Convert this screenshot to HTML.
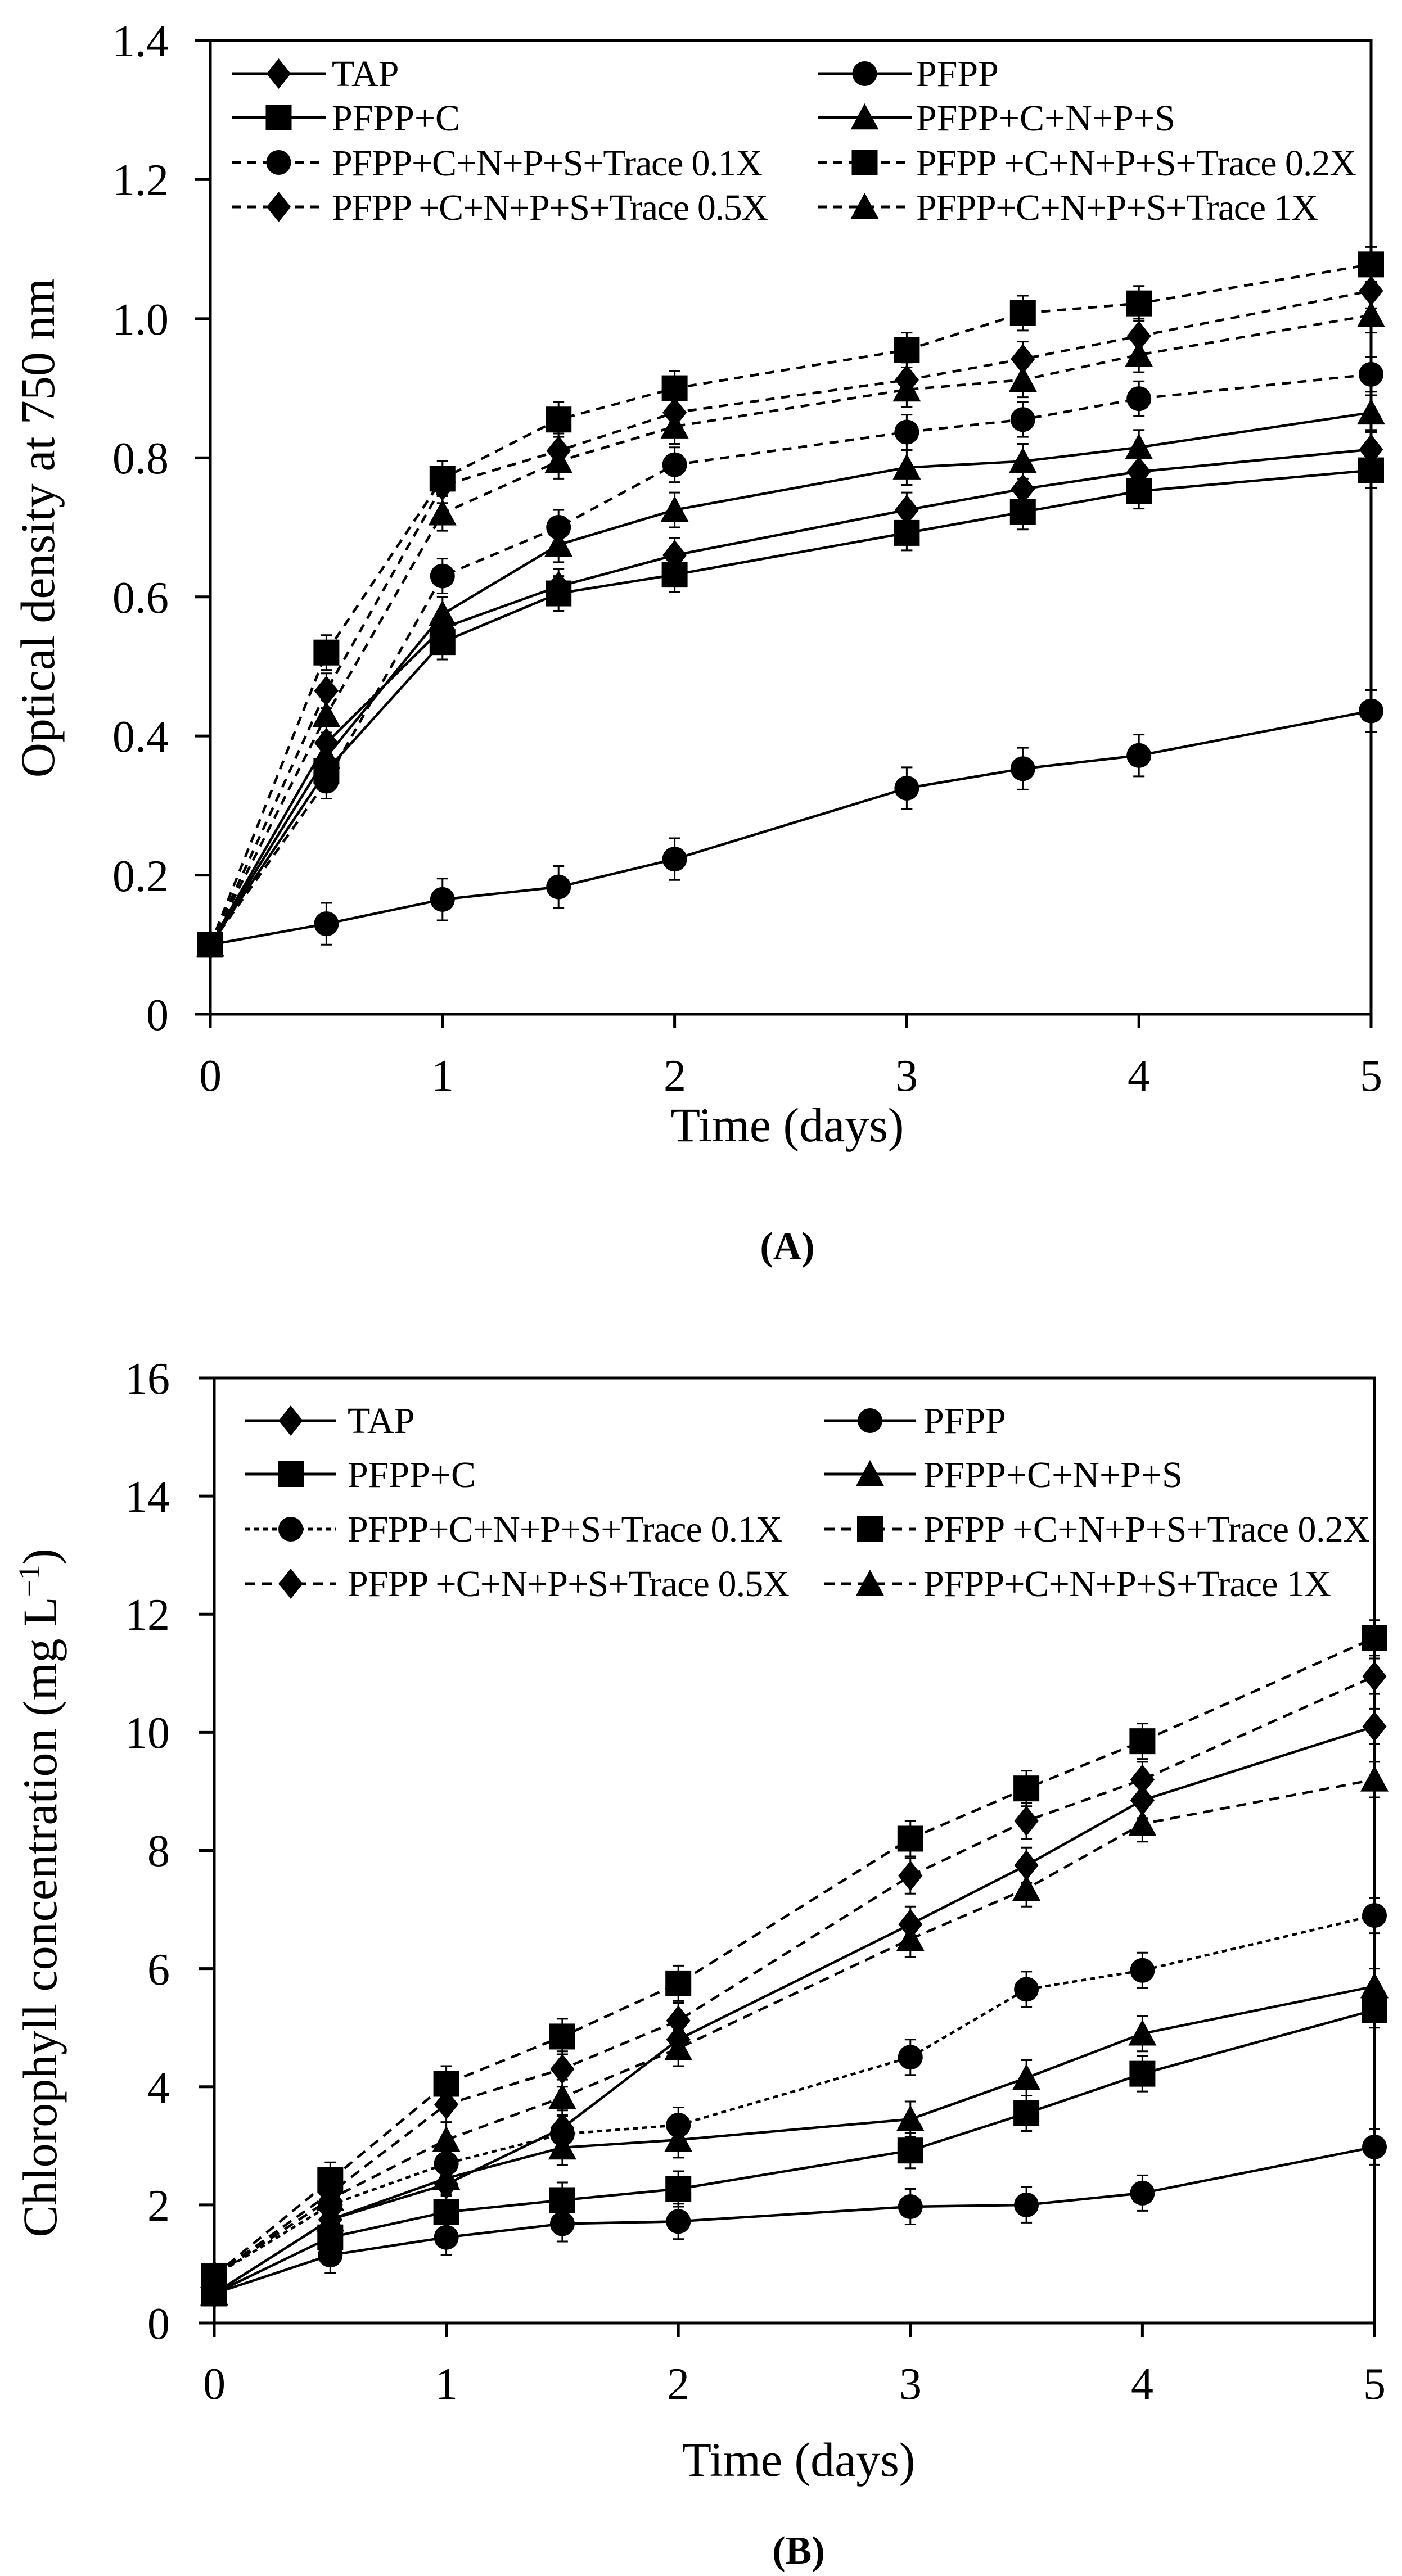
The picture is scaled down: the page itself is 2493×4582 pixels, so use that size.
<!DOCTYPE html>
<html><head><meta charset="utf-8">
<style>
html,body{margin:0;padding:0;background:#fff;}
svg{display:block;}
text{font-family:"Liberation Serif",serif;fill:#000;}
</style></head>
<body>
<svg id="s" width="2493" height="4582" viewBox="0 0 2493 4582" xmlns="http://www.w3.org/2000/svg">
<rect width="2493" height="4582" fill="#fff"/>
<g id="g"></g>
<!-- Panel A text -->
<g font-size="80" text-anchor="end">
<text x="300" y="100">1.4</text><text x="300" y="347">1.2</text><text x="300" y="595">1.0</text>
<text x="300" y="842">0.8</text><text x="300" y="1090">0.6</text><text x="300" y="1337">0.4</text>
<text x="300" y="1585">0.2</text><text x="300" y="1832">0</text>
</g>
<g font-size="80" text-anchor="middle">
<text x="374" y="1940">0</text><text x="787" y="1940">1</text><text x="1200" y="1940">2</text>
<text x="1612" y="1940">3</text><text x="2025" y="1940">4</text><text x="2438" y="1940">5</text>
<text x="1400" y="2030" font-size="86">Time (days)</text>
<text x="1400" y="2240" font-size="70" font-weight="bold">(A)</text>
</g>
<text transform="translate(96,939) rotate(-90)" font-size="86" text-anchor="middle">Optical density at 750 nm</text>
<g font-size="66">
<text x="590" y="153">TAP</text><text x="1629" y="153">PFPP</text>
<text x="590" y="232">PFPP+C</text><text x="1629" y="232">PFPP+C+N+P+S</text>
<text x="590" y="312" textLength="766">PFPP+C+N+P+S+Trace 0.1X</text><text x="1629" y="312" textLength="783">PFPP +C+N+P+S+Trace 0.2X</text>
<text x="590" y="391" textLength="776">PFPP +C+N+P+S+Trace 0.5X</text><text x="1629" y="391" textLength="715">PFPP+C+N+P+S+Trace 1X</text>
</g>
<!-- Panel B text -->
<g font-size="80" text-anchor="end">
<text x="302" y="2479">16</text><text x="302" y="2689">14</text><text x="302" y="2899">12</text>
<text x="302" y="3109">10</text><text x="302" y="3319">8</text><text x="302" y="3530">6</text>
<text x="302" y="3740">4</text><text x="302" y="3950">2</text><text x="302" y="4160">0</text>
</g>
<g font-size="80" text-anchor="middle">
<text x="381" y="4267">0</text><text x="794" y="4267">1</text><text x="1206" y="4267">2</text>
<text x="1619" y="4267">3</text><text x="2031" y="4267">4</text><text x="2444" y="4267">5</text>
<text x="1420" y="4404" font-size="86">Time (days)</text>
<text x="1420" y="4560" font-size="70" font-weight="bold">(B)</text>
</g>
<text transform="translate(100,3367) rotate(-90)" font-size="86" text-anchor="middle">Chlorophyll concentration (mg L<tspan font-size="54" dy="-30">−1</tspan><tspan dy="30">)</tspan></text>
<g font-size="66">
<text x="618" y="2549">TAP</text><text x="1642" y="2549">PFPP</text>
<text x="618" y="2645">PFPP+C</text><text x="1642" y="2645">PFPP+C+N+P+S</text>
<text x="618" y="2742" textLength="773">PFPP+C+N+P+S+Trace 0.1X</text><text x="1642" y="2742" textLength="794">PFPP +C+N+P+S+Trace 0.2X</text>
<text x="618" y="2839" textLength="786">PFPP +C+N+P+S+Trace 0.5X</text><text x="1642" y="2839" textLength="725">PFPP+C+N+P+S+Trace 1X</text>
</g>
</svg>
<script>
var NS="http://www.w3.org/2000/svg",G=document.getElementById("g");
function el(n,a){var e=document.createElementNS(NS,n);for(var k in a)e.setAttribute(k,a[k]);G.appendChild(e);return e;}
function marker(t,x,y,s){s=s||1;
 if(t=="d"){var r=27*s;el("polygon",{points:(x)+","+(y-r)+" "+(x+r*0.8)+","+y+" "+x+","+(y+r)+" "+(x-r*0.8)+","+y,fill:"#000"});}
 else if(t=="c"){el("circle",{cx:x,cy:y,r:22*s,fill:"#000"});}
 else if(t=="s"){var h=23*s;el("rect",{x:x-h,y:y-h,width:2*h,height:2*h,fill:"#000"});}
 else {var h=25*s;el("polygon",{points:x+","+(y-h)+" "+(x+h)+","+(y+h*0.85)+" "+(x-h)+","+(y+h*0.85),fill:"#000"});}
}
var T=[0,0.5,1,1.5,2,3,3.5,4,5];
function panel(P){
 var X=function(t){return P.x0+t*(P.x1-P.x0)/5},Y=function(v){return P.y1-v*(P.y1-P.y0)/P.max};
 P.series.forEach(function(s){
  var pts=s.v.map(function(v,i){return X(T[i])+","+Y(v)}).join(" ");
  el("polyline",{points:pts,fill:"none",stroke:"#000","stroke-width":4.5,"stroke-dasharray":s.dash||"none"});
  s.v.forEach(function(v,i){var e=(s.e||P.e)*(i==0?0:1);var x=X(T[i]);
   if(e>0){el("line",{x1:x,y1:Y(v-e),x2:x,y2:Y(v+e),stroke:"#000","stroke-width":3});
    el("line",{x1:x-10,y1:Y(v+e),x2:x+10,y2:Y(v+e),stroke:"#000","stroke-width":3});
    el("line",{x1:x-10,y1:Y(v-e),x2:x+10,y2:Y(v-e),stroke:"#000","stroke-width":3});}
   marker(s.m,x,Y(v));});
 });
 el("rect",{x:P.x0,y:P.y0,width:P.x1-P.x0,height:P.y1-P.y0,fill:"none",stroke:"#000","stroke-width":5});
 for(var v=0;v<=P.max+1e-9;v+=P.step){el("line",{x1:P.x0-27,y1:Y(v),x2:P.x0,y2:Y(v),stroke:"#000","stroke-width":5});}
 for(var t=0;t<=5;t++){el("line",{x1:X(t),y1:P.y1,x2:X(t),y2:P.y1+24,stroke:"#000","stroke-width":5});}
 P.series.forEach(function(s,i){var col=i%2,row=Math.floor(i/2);
  var lx=P.lx[col],ly=P.ly[row];
  el("line",{x1:lx,y1:ly,x2:lx+(P.lw),y2:ly,stroke:"#000","stroke-width":5,"stroke-dasharray":s.ldash||"none"});
  marker(s.m,lx+P.lw/2,ly);
 });
}
panel({x0:374,x1:2438,y0:72,y1:1804,max:1.4,step:0.2,e:0.025,lx:[412,1454],ly:[131,209,289,368],lw:167,
 series:[
 {m:"d",v:[0.1,0.39,0.555,0.615,0.66,0.725,0.755,0.78,0.812]},
 {m:"c",v:[0.1,0.13,0.165,0.183,0.223,0.325,0.353,0.372,0.436],e:0.03},
 {m:"s",v:[0.1,0.35,0.535,0.605,0.632,0.692,0.722,0.752,0.782]},
 {m:"t",v:[0.1,0.37,0.575,0.675,0.725,0.786,0.795,0.815,0.865]},
 {m:"c",v:[0.1,0.335,0.63,0.70,0.79,0.837,0.855,0.885,0.92],dash:"16 12",ldash:"16 12"},
 {m:"s",v:[0.1,0.52,0.77,0.855,0.90,0.955,1.008,1.022,1.078],dash:"16 12",ldash:"16 12"},
 {m:"d",v:[0.1,0.465,0.76,0.81,0.865,0.912,0.942,0.975,1.04],dash:"16 12",ldash:"16 12"},
 {m:"t",v:[0.1,0.43,0.72,0.795,0.845,0.898,0.912,0.948,1.005],dash:"16 12",ldash:"16 12"}]});
panel({x0:381,x1:2444,y0:2451,y1:4132,max:16,step:2,e:0.3,lx:[436,1466],ly:[2527,2622,2720,2817],lw:162,
 series:[
 {m:"d",v:[0.5,1.75,2.35,3.3,4.8,6.75,7.75,8.85,10.1]},
 {m:"c",v:[0.5,1.15,1.45,1.68,1.72,1.97,2.0,2.2,2.98]},
 {m:"s",v:[0.5,1.45,1.88,2.08,2.27,2.92,3.55,4.22,5.3]},
 {m:"t",v:[0.5,1.75,2.45,2.97,3.1,3.45,4.15,4.9,5.7]},
 {m:"c",v:[0.8,2.0,2.7,3.2,3.35,4.5,5.65,5.97,6.9],dash:"9 7",ldash:"9 7"},
 {m:"s",v:[0.8,2.42,4.05,4.85,5.75,8.2,9.05,9.85,11.6],dash:"18 12",ldash:"18 12"},
 {m:"d",v:[0.8,2.2,3.7,4.3,5.12,7.57,8.5,9.2,10.95],dash:"18 12",ldash:"18 12"},
 {m:"t",v:[0.8,2.1,3.1,3.82,4.65,6.5,7.35,8.45,9.2],dash:"18 12",ldash:"18 12"}]});
</script>
</body></html>
